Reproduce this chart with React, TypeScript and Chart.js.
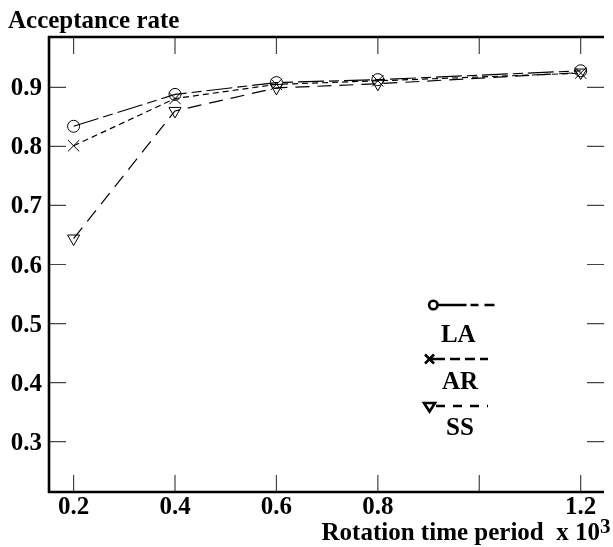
import React, { useEffect, useRef } from "react";
import { Chart, registerables } from "chart.js";

Chart.register(...registerables);

const xValues = [0.2, 0.4, 0.6, 0.8, 1.2];
const laValues = [0.834, 0.888, 0.908, 0.913, 0.928];
const arValues = [0.801, 0.881, 0.905, 0.911, 0.924];
const ssValues = [0.644, 0.86, 0.899, 0.906, 0.925];

const xTickValues = [0.2, 0.4, 0.6, 0.8, 1.0, 1.2];
const xTickLabels = ["0.2", "0.4", "0.6", "0.8", "", "1.2"];
const yTickValues = [0.3, 0.4, 0.5, 0.6, 0.7, 0.8, 0.9];
const yTickLabels = ["0.3", "0.4", "0.5", "0.6", "0.7", "0.8", "0.9"];

const seriesNames = ["LA", "AR", "SS"];

const FONT = '"Liberation Serif", "Times New Roman", serif';

const overlayPlugin = {
  id: "overlay",
  afterDraw(chart: any) {
    const ctx = chart.ctx as CanvasRenderingContext2D;
    const xs = chart.scales.x;
    const ys = chart.scales.y;
    const a = chart.chartArea;
    ctx.save();
    // tick marks (inward, mirrored)
    ctx.strokeStyle = "#444";
    ctx.lineWidth = 1.2;
    ctx.setLineDash([]);
    const tl = 17;
    xTickValues.forEach((v) => {
      const px = xs.getPixelForValue(v);
      ctx.beginPath();
      ctx.moveTo(px, a.bottom);
      ctx.lineTo(px, a.bottom - tl);
      ctx.moveTo(px, a.top);
      ctx.lineTo(px, a.top + tl);
      ctx.stroke();
    });
    yTickValues.forEach((v) => {
      const py = ys.getPixelForValue(v);
      ctx.beginPath();
      ctx.moveTo(a.left, py);
      ctx.lineTo(a.left + tl, py);
      ctx.moveTo(a.right, py);
      ctx.lineTo(a.right - tl, py);
      ctx.stroke();
    });
    // axis borders
    ctx.strokeStyle = "#000";
    ctx.lineWidth = 2.6;
    ctx.beginPath();
    ctx.moveTo(a.left, a.top - 1);
    ctx.lineTo(a.left, a.bottom + 1);
    ctx.moveTo(a.left - 1, a.bottom);
    ctx.lineTo(a.right, a.bottom);
    ctx.moveTo(a.left - 1, a.top);
    ctx.lineTo(a.right, a.top);
    ctx.stroke();

    // tick labels
    ctx.fillStyle = "#000";
    ctx.font = `bold 25px ${FONT}`;
    ctx.textBaseline = "alphabetic";
    ctx.textAlign = "center";
    xTickValues.forEach((v, i) => {
      const px = xs.getPixelForValue(v);
      ctx.fillText(xTickLabels[i], px, a.bottom + 22);
    });
    ctx.textAlign = "right";
    yTickValues.forEach((v, i) => {
      const py = ys.getPixelForValue(v);
      ctx.fillText(yTickLabels[i], a.left - 7, py + 8);
    });

    // axis titles
    ctx.textAlign = "left";
    ctx.fillText("Acceptance rate", 8, 28);
    ctx.textAlign = "right";
    ctx.fillText("Rotation time period  x 10", 600, 540);
    ctx.textAlign = "left";
    ctx.font = `bold 21px ${FONT}`;
    ctx.fillText("3", 600, 533);

    // legend
    ctx.font = `bold 25px ${FONT}`;
    ctx.textAlign = "center";
    ctx.lineWidth = 2.6;
    ctx.strokeStyle = "#000";
    // LA
    ctx.beginPath();
    ctx.arc(433.3, 305, 4.2, 0, Math.PI * 2);
    ctx.stroke();
    ctx.setLineDash([29, 4, 8, 6, 10]);
    ctx.beginPath();
    ctx.moveTo(437.5, 305);
    ctx.lineTo(495, 305);
    ctx.stroke();
    ctx.setLineDash([]);
    ctx.fillText(seriesNames[0], 458.3, 342);
    // AR
    ctx.beginPath();
    ctx.moveTo(425, 354.5);
    ctx.lineTo(434, 363.5);
    ctx.moveTo(434, 354.5);
    ctx.lineTo(425, 363.5);
    ctx.stroke();
    ctx.setLineDash([15, 5, 10, 5, 10, 5, 8]);
    ctx.beginPath();
    ctx.moveTo(430, 359);
    ctx.lineTo(488, 359);
    ctx.stroke();
    ctx.setLineDash([]);
    ctx.fillText(seriesNames[1], 460, 388.5);
    // SS
    ctx.beginPath();
    ctx.moveTo(424, 403);
    ctx.lineTo(435, 403);
    ctx.lineTo(429.5, 411.5);
    ctx.closePath();
    ctx.stroke();
    ctx.setLineDash([9, 8]);
    ctx.beginPath();
    ctx.moveTo(436, 406);
    ctx.lineTo(488, 406);
    ctx.stroke();
    ctx.setLineDash([]);
    ctx.fillText(seriesNames[2], 460, 435);
    ctx.restore();
  },
};

export default function App() {
  const ref = useRef<HTMLCanvasElement | null>(null);
  useEffect(() => {
    document.body.style.margin = "0";
    const canvas = ref.current;
    if (!canvas) return;
    const mk = (vals: number[]) => xValues.map((x, i) => ({ x, y: vals[i] }));
    const chart = new Chart(canvas, {
      type: "scatter",
      data: {
        datasets: [
          {
            label: seriesNames[0],
            data: mk(laValues),
            showLine: true,
            borderColor: "#000",
            borderWidth: 1.2,
            borderDash: [26, 5, 10, 5],
            pointStyle: "circle",
            pointRadius: 6,
            pointBorderWidth: 1,
            pointBorderColor: "#000",
            pointBackgroundColor: "rgba(255,255,255,0)",
          },
          {
            label: seriesNames[1],
            data: mk(arValues),
            showLine: true,
            borderColor: "#000",
            borderWidth: 1.2,
            borderDash: [6, 4],
            pointStyle: "crossRot",
            pointRadius: 8,
            pointBorderWidth: 1,
            pointBorderColor: "#000",
          },
          {
            label: seriesNames[2],
            data: mk(ssValues),
            showLine: true,
            borderColor: "#000",
            borderWidth: 1.2,
            borderDash: [14, 8],
            pointStyle: "triangle",
            pointRotation: 180,
            pointRadius: 7,
            pointBorderWidth: 1,
            pointBorderColor: "#000",
            pointBackgroundColor: "rgba(255,255,255,0)",
          },
        ],
      },
      options: {
        animation: false,
        responsive: false,
        devicePixelRatio: 1,
        layout: { padding: { top: 37, right: 0, left: 0, bottom: 0 } },
        plugins: {
          legend: { display: false },
          tooltip: { enabled: false },
          title: { display: false },
        },
        scales: {
          x: {
            type: "linear",
            min: 0.1515,
            max: 1.246,
            grid: { display: false },
            border: { display: false },
            ticks: { display: false },
            afterFit: (s: any) => {
              s.height = 55;
            },
          },
          y: {
            type: "linear",
            min: 0.2148,
            max: 0.9852,
            grid: { display: false },
            border: { display: false },
            ticks: { display: false },
            afterFit: (s: any) => {
              s.width = 49;
            },
          },
        },
      },
      plugins: [overlayPlugin],
    });
    return () => chart.destroy();
  }, []);
  return (
    <div style={{ width: 613, height: 547, background: "#fff" }}>
      <canvas ref={ref} width={613} height={547} style={{ display: "block" }} />
    </div>
  );
}
